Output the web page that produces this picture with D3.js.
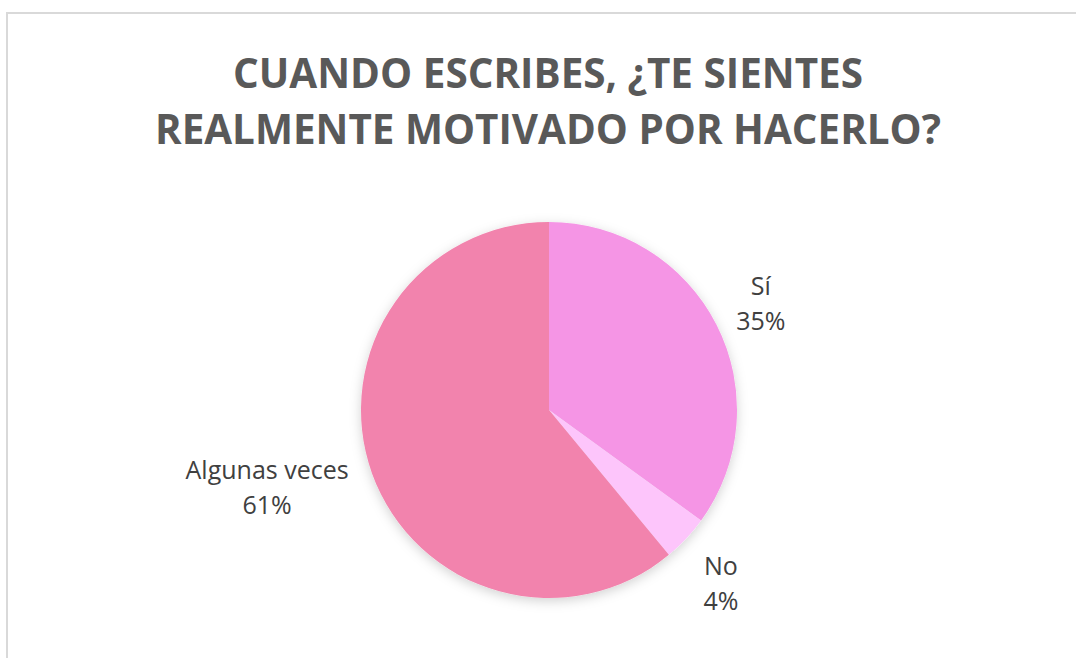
<!DOCTYPE html>
<html>
<head>
<meta charset="utf-8">
<script src="https://cdn.jsdelivr.net/npm/d3@7"></script>
<style>
  html, body { margin: 0; padding: 0; background: #fff; }
  svg { display: block; }
</style>
</head>
<body>
<svg id="chart" width="1076" height="658"></svg>
<script>
const categories = ["Sí", "No", "Algunas veces"];
const values = [35, 4, 61];
const colors = ["#f595e5", "#fdc5fb", "#f283ad"];
const titleLines = ["CUANDO ESCRIBES, ¿TE SIENTES", "REALMENTE MOTIVADO POR HACERLO?"];

const width = 1076, height = 658;
const cx = 549, cy = 410, radius = 188;

const svg = d3.select("#chart");

// frame lines (top + left only are visible)
svg.append("path")
    .attr("d", `M7,${height} L7,13 L${width},13`)
    .attr("fill", "none")
    .attr("stroke", "#d9d9d9")
    .attr("stroke-width", 2);

// title
const titleWidths = [630, 786];
svg.append("g").selectAll("text")
    .data(titleLines)
    .join("text")
    .attr("x", width / 2 + 10)
    .attr("y", (d, i) => 88 + i * 56)
    .attr("text-anchor", "middle")
    .attr("font-family", "'Open Sans', sans-serif")
    .attr("font-weight", 700)
    .attr("font-size", 42)
    .attr("fill", "#595959")
    .attr("textLength", (d, i) => titleWidths[i])
    .attr("lengthAdjust", "spacingAndGlyphs")
    .text(d => d);

// soft shadow for the pie
const defs = svg.append("defs");
const filter = defs.append("filter")
    .attr("id", "shadow")
    .attr("x", "-20%").attr("y", "-20%")
    .attr("width", "140%").attr("height", "140%");
filter.append("feDropShadow")
    .attr("dx", 0).attr("dy", 3)
    .attr("stdDeviation", 6)
    .attr("flood-color", "#000")
    .attr("flood-opacity", 0.18);

const data = categories.map((c, i) => ({ name: c, value: values[i], color: colors[i] }));
const total = d3.sum(values);

const pie = d3.pie().sort(null).value(d => d.value);
const arcs = pie(data);
const arc = d3.arc().innerRadius(0).outerRadius(radius);

const g = svg.append("g").attr("transform", `translate(${cx},${cy})`);

g.append("g")
    .attr("filter", "url(#shadow)")
    .selectAll("path")
    .data(arcs)
    .join("path")
    .attr("d", arc)
    .attr("fill", d => d.data.color);

// labels outside the pie, along each slice's mid angle
const labelNudge = [[16, -12], [13, 19], [-21, -22]];
const labelFont = 25;
const labels = g.append("g").selectAll("g")
    .data(arcs)
    .join("g")
    .attr("transform", (d, i) => {
        const a = (d.startAngle + d.endAngle) / 2;
        const w = d.data.name.length * 11;
        const r = radius + 22 + Math.abs(Math.sin(a)) * Math.min(w, 170) / 2;
        const x = Math.sin(a) * r + labelNudge[i][0];
        const y = -Math.cos(a) * r + labelNudge[i][1];
        return `translate(${x},${y})`;
    });

labels.append("text")
    .attr("text-anchor", "middle")
    .attr("font-family", "'Open Sans', sans-serif")
    .attr("font-size", labelFont)
    .attr("fill", "#404040")
    .attr("y", -3)
    .text(d => d.data.name);

labels.append("text")
    .attr("text-anchor", "middle")
    .attr("font-family", "'Open Sans', sans-serif")
    .attr("font-size", labelFont)
    .attr("fill", "#404040")
    .attr("y", 32)
    .text(d => d3.format(".0%")(d.data.value / total));
</script>
</body>
</html>
